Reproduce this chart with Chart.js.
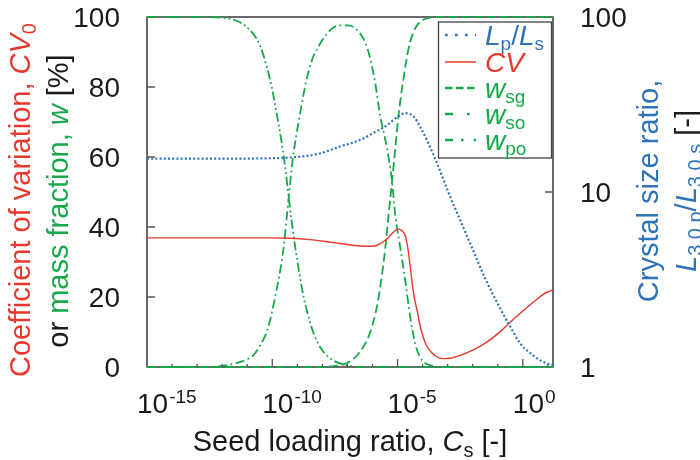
<!DOCTYPE html>
<html>
<head>
<meta charset="utf-8">
<script src="https://cdn.jsdelivr.net/npm/chart.js@4.4.1/dist/chart.umd.min.js"></script>
<style>
  html, body { margin: 0; padding: 0; background: #fff; }
  #wrap { width: 700px; height: 460px; }
</style>
</head>
<body>
<div id="wrap"><canvas id="chart" width="700" height="460"></canvas></div>
<script>
// x values are log10 of the seed loading ratio Cs
const lpLogCs = [-15, -12, -10, -9.4, -8.1, -7.3, -6.5, -6.0, -5.4, -5.0, -4.7, -4.35, -4.1, -3.8, -3.4, -2.9, -2.5, -2.0, -1.5, -0.9, -0.5, -0.1, 0.3, 0.7, 1.1, 1.2];
const lpRatio = [15.5, 15.5, 15.6, 15.7, 16.6, 18.2, 19.8, 21.6, 24.2, 26.9, 28.2, 26.9, 23.6, 19.4, 14.3, 9.4, 6.9, 4.7, 3.2, 2.16, 1.7, 1.36, 1.2, 1.09, 1.035, 1.03];

const cvLogCs = [-15, -12, -10, -9.3, -8.5, -7.8, -7.3, -6.8, -6.3, -6.0, -5.7, -5.4, -5.15, -4.96, -4.8, -4.69, -4.58, -4.49, -4.36, -4.2, -4.09, -3.9, -3.69, -3.45, -3.2, -2.9, -2.5, -2.0, -1.5, -0.9, -0.5, 0, 0.5, 0.8, 1.0, 1.2];
const cvPct = [36.9, 36.9, 36.9, 36.8, 36.4, 35.8, 35.3, 34.8, 34.5, 34.5, 35.2, 36.8, 38.6, 39.4, 38.8, 37.5, 33.5, 28.5, 21, 15.5, 11.5, 7, 4.5, 3.0, 2.4, 2.5, 3.3, 4.8, 6.8, 10.1, 12.8, 16.0, 19.0, 20.7, 21.5, 22];

const wsgLogCs = [-15, -8, -7.7, -7.29, -7.0, -6.62, -6.09, -5.76, -5.49, -5.36, -5.22, -5.09, -4.96, -4.78, -4.56, -4.29, -3.82, -3.29, 1.2];
const wsgPct = [0, 0, 0.2, 0.5, 1.2, 3.3, 10, 19.7, 34, 43.3, 53, 62.5, 72, 81.5, 91, 96.8, 99.6, 100, 100];

const wsoLogCs = [-15, -12.5, -12, -11.5, -11, -10.75, -10.5, -10.2, -9.9, -9.55, -9.35, -9.18, -8.9, -8.65, -8.4, -8.2, -7.9, -7.6, -7.3, -7.0, -6.6, -6.2, -5.9, -5.7, -5.42, -5.22, -5.09, -4.89, -4.69, -4.49, -4.29, -4.1, -3.9, -3.6, -3.2, 1.2];
const wsoPct = [0, 0, 0.3, 1, 2.2, 3.4, 6, 10.5, 19.5, 34, 48, 59.5, 72, 81.5, 88, 91, 94.5, 96.8, 97.6, 97.6, 96.2, 91, 81.5, 72, 62.5, 53, 43.3, 34, 24.5, 14, 6.5, 2.8, 1.1, 0.3, 0, 0];

const wpoLogCs = [-15, -12.5, -12, -11.5, -11, -10.5, -10.1, -9.8, -9.5, -9.33, -9.1, -8.9, -8.75, -8.5, -8.35, -8.1, -7.8, -7.5, -7.2, -6.8, -6.5, 1.2];
const wpoPct = [100, 100, 99.8, 99.1, 97, 92, 82.5, 71.5, 58, 47.5, 35, 26, 20, 13, 9.6, 5.8, 3.1, 1.6, 0.8, 0.2, 0, 0];

const xMajor = [-15, -10, -5, 0];
const yLeftTicks = [0, 20, 40, 60, 80, 100];
const yRightTicks = [1, 10, 100];

const BLUE = "#2f74b8";
const RED = "#e8382c";
const GREEN = "#17a84b";
const FONT = "'Liberation Sans', Arial, sans-serif";

const pts = (xs, ys) => xs.map((e, i) => ({ x: Math.pow(10, e), y: ys[i] }));

function fontFor(p, size) {
  const s = p[3] ? Math.round(size * 0.68) : size;
  return (p[2] ? "italic " : "") + s + "px " + FONT;
}

// parts: [text, colour, italic, "sub" | "sup"]
function richText(ctx, parts, x, y, size, align) {
  const widths = parts.map((p) => {
    ctx.font = fontFor(p, size);
    return ctx.measureText(p[0]).width;
  });
  const total = widths.reduce((a, b) => a + b, 0);
  let cx = align === "center" ? x - total / 2 : align === "right" ? x - total : x;
  ctx.textAlign = "left";
  ctx.textBaseline = "alphabetic";
  parts.forEach((p, i) => {
    ctx.font = fontFor(p, size);
    ctx.fillStyle = p[1];
    const dy = p[3] === "sub" ? size * 0.2 : p[3] === "sup" ? -size * 0.38 : 0;
    ctx.fillText(p[0], cx, y + dy);
    cx += widths[i];
  });
}

function rotatedText(ctx, parts, x, y, size) {
  ctx.save();
  ctx.translate(x, y);
  ctx.rotate(-Math.PI / 2);
  richText(ctx, parts, 0, 0, size, "center");
  ctx.restore();
}

const decor = {
  id: "decor",
  beforeDatasetsDraw(chart) {
    const { ctx, chartArea: a } = chart;
    ctx.save();
    ctx.strokeStyle = "#1a1a1a";
    ctx.lineWidth = 1.3;
    ctx.strokeRect(a.left, a.top, a.right - a.left, a.bottom - a.top);
    ctx.restore();
  },
  afterDraw(chart) {
    const { ctx, chartArea: a } = chart;
    const xs = chart.scales.x, yl = chart.scales.y, yr = chart.scales.y2;
    ctx.save();

    // inward ticks
    ctx.strokeStyle = "#555";
    ctx.lineWidth = 1.3;
    ctx.beginPath();
    for (let e = -14; e <= 1; e++) {
      const px = xs.getPixelForValue(Math.pow(10, e));
      const len = xMajor.includes(e) ? 8 : 3;
      ctx.moveTo(px, a.bottom);
      ctx.lineTo(px, a.bottom - len);
    }
    [20, 40, 60, 80].forEach((v) => {
      const py = yl.getPixelForValue(v);
      ctx.moveTo(a.left, py);
      ctx.lineTo(a.left + 8, py);
    });
    const p10 = yr.getPixelForValue(10);
    ctx.moveTo(a.right, p10);
    ctx.lineTo(a.right - 8, p10);
    ctx.stroke();

    // tick labels
    ctx.fillStyle = "#1a1a1a";
    xMajor.forEach((e) => {
      const px = xs.getPixelForValue(Math.pow(10, e));
      ctx.font = "28px " + FONT;
      ctx.textAlign = "left";
      ctx.textBaseline = "alphabetic";
      ctx.fillText("10", px - 10, 413);
      const w = ctx.measureText("10").width;
      ctx.font = "19px " + FONT;
      ctx.fillText(String(e), px - 10 + w + 1, 403);
    });
    ctx.font = "28px " + FONT;
    ctx.textAlign = "right";
    yLeftTicks.forEach((v) => {
      ctx.fillText(String(v), 120, yl.getPixelForValue(v) + 10);
    });
    ctx.textAlign = "left";
    yRightTicks.forEach((v) => {
      ctx.fillText(String(v), 580, yr.getPixelForValue(v) + 10);
    });

    // axis titles
    richText(ctx, [["Seed loading ratio, ", "#1a1a1a"], ["C", "#1a1a1a", true], ["s", "#1a1a1a", false, "sub"], [" [-]", "#1a1a1a"]], 350, 451, 29, "center");
    rotatedText(ctx, [["Coefficient of variation, ", RED], ["CV", RED, true], ["0", RED, false, "sub"]], 30, 200, 29);
    rotatedText(ctx, [["or ", "#1a1a1a"], ["mass fraction, ", GREEN], ["w", GREEN, true], [" [%]", "#1a1a1a"]], 68, 201, 29);
    rotatedText(ctx, [["Crystal size ratio,", BLUE]], 658, 191, 29);
    rotatedText(ctx, [["L", BLUE, true], ["3.0,p", BLUE, false, "sub"], ["/", BLUE], ["L", BLUE, true], ["3.0,s", BLUE, false, "sub"], [" [-]", "#1a1a1a"]], 696, 191, 29);

    // legend
    const box = { l: 438.5, t: 22, w: 113, h: 136 };
    ctx.fillStyle = "#fff";
    ctx.fillRect(box.l, box.t, box.w, box.h);
    ctx.strokeStyle = "#444";
    ctx.lineWidth = 1.3;
    ctx.strokeRect(box.l, box.t, box.w, box.h);
    const rows = [
      { c: BLUE, w: 2.6, dash: [2.6, 7.4], parts: [["L", BLUE, true], ["p", BLUE, false, "sub"], ["/", BLUE], ["L", BLUE, true], ["s", BLUE, false, "sub"]] },
      { c: RED, w: 1.5, dash: [], parts: [["CV", RED, true]] },
      { c: GREEN, w: 2.4, dash: [7.5, 3.5], parts: [["w", GREEN, true], ["sg", GREEN, false, "sub"]] },
      { c: GREEN, w: 2.4, dash: [8, 14, 2.6, 100], parts: [["w", GREEN, true], ["so", GREEN, false, "sub"]] },
      { c: GREEN, w: 2.4, dash: [8, 8, 2.6, 10, 2.6, 100], parts: [["w", GREEN, true], ["po", GREEN, false, "sub"]] },
    ];
    const rowY = [35, 62, 88, 114, 140];
    rows.forEach((r, i) => {
      ctx.strokeStyle = r.c;
      ctx.lineWidth = r.w;
      ctx.setLineDash(r.dash);
      ctx.beginPath();
      ctx.moveTo(445, rowY[i]);
      ctx.lineTo(476, rowY[i]);
      ctx.stroke();
      ctx.setLineDash([]);
      richText(ctx, r.parts, 485, rowY[i] + 9.5, 28, "left");
    });
    ctx.restore();
  },
};

const common = { pointRadius: 0, fill: false, clip: false, cubicInterpolationMode: "monotone" };

new Chart(document.getElementById("chart"), {
  type: "line",
  data: {
    datasets: [
      { ...common, label: "Lp/Ls", data: pts(lpLogCs, lpRatio), yAxisID: "y2", borderColor: BLUE, borderWidth: 2.2, borderDash: [2, 2.2] },
      { ...common, label: "CV", data: pts(cvLogCs, cvPct), yAxisID: "y", borderColor: RED, borderWidth: 1.4 },
      { ...common, label: "wsg", data: pts(wsgLogCs, wsgPct), yAxisID: "y", borderColor: GREEN, borderWidth: 1.8, borderDash: [9, 4] },
      { ...common, label: "wso", data: pts(wsoLogCs, wsoPct), yAxisID: "y", borderColor: GREEN, borderWidth: 1.8, borderDash: [9, 3.5, 1.8, 3.5] },
      { ...common, label: "wpo", data: pts(wpoLogCs, wpoPct), yAxisID: "y", borderColor: GREEN, borderWidth: 1.8, borderDash: [9, 3, 1.8, 3, 1.8, 3] },
    ],
  },
  options: {
    responsive: false,
    animation: false,
    devicePixelRatio: 1,
    layout: { padding: { left: 147, right: 147, top: 17, bottom: 93 } },
    plugins: { legend: { display: false }, tooltip: { enabled: false } },
    scales: {
      x: { type: "logarithmic", display: false, bounds: "data", min: 1e-15, max: 16 },
      y: { type: "linear", display: false, position: "left", min: 0, max: 100 },
      y2: { type: "logarithmic", display: false, bounds: "data", position: "right", min: 1, max: 100 },
    },
  },
  plugins: [decor],
});
</script>
</body>
</html>
